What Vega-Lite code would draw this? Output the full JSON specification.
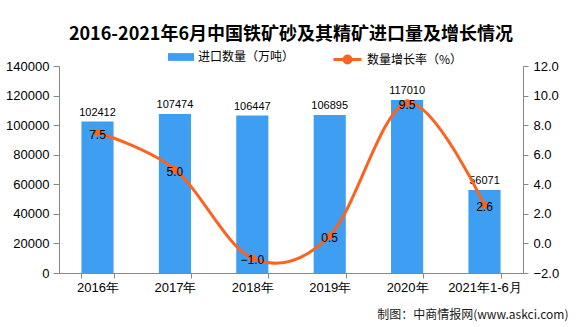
{
  "$schema": "https://vega.github.io/schema/vega-lite/v6.json",
  "width": 464,
  "height": 207,
  "autosize": {"type": "none"},
  "padding": {"left": 59, "right": 53, "top": 66, "bottom": 54},
  "background": "white",
  "title": {
    "text": "2016-2021年6月中国铁矿砂及其精矿进口量及增长情况",
    "font": "Noto Sans CJK SC",
    "fontSize": 18,
    "fontWeight": "bold",
    "color": "#000000",
    "anchor": "middle",
    "offset": 0
  },
  "config": {
    "view": {"stroke": null},
    "axis": {"grid": false, "domain": true, "ticks": true, "labelOverlap": false, "domainColor": "#888888", "tickColor": "#888888", "labelColor": "#000000", "labelFont": "Liberation Sans", "labelFontSize": 13},
    "legend": {"labelFont": "Noto Sans CJK SC", "labelFontSize": 12, "labelColor": "#000000"}
  },
  "data": {
    "values": [
      {"year": "2016年", "vol": 102412, "rate": 7.5},
      {"year": "2017年", "vol": 107474, "rate": 5.0},
      {"year": "2018年", "vol": 106447, "rate": -1.0},
      {"year": "2019年", "vol": 106895, "rate": 0.5},
      {"year": "2020年", "vol": 117010, "rate": 9.5},
      {"year": "2021年1-6月", "vol": 56071, "rate": 2.6}
    ]
  },
  "encoding": {
    "x": {
      "field": "year",
      "type": "nominal",
      "sort": null,
      "scale": {"paddingInner": 0.585, "paddingOuter": 0.29},
      "axis": {
        "labelAngle": 0,
        "tickBand": "extent",
        "tickSize": 5,
        "labelPadding": 3,
        "title": "制图：中商情报网(www.askci.com)",
        "titleFont": "Noto Sans CJK SC",
        "titleFontSize": 12,
        "titleFontWeight": "normal",
        "titleColor": "#1a1a1a",
        "titleAnchor": null,
        "titleAlign": "right",
        "titleBaseline": "middle",
        "titleX": 509,
        "titleY": 41
      }
    }
  },
  "layer": [
    {
      "encoding": {
        "y": {
          "field": "vol",
          "type": "quantitative",
          "scale": {"domain": [0, 140000], "nice": false},
          "axis": {"orient": "left", "values": [0, 20000, 40000, 60000, 80000, 100000, 120000, 140000], "format": "d", "title": null, "tickSize": 6, "labelPadding": 4, "labelOverlap": false}
        }
      },
      "layer": [
        {
          "mark": {"type": "bar", "color": "#3e9ef2"},
          "encoding": {
            "fill": {
              "datum": "进口数量（万吨）",
              "type": "nominal",
              "scale": {"range": ["#3e9ef2"]},
              "legend": {
                "orient": "none",
                "legendX": 109,
                "legendY": -22,
                "title": null,
                "symbolType": "M-1,-0.3H1V0.3H-1Z",
                "symbolSize": 676,
                "symbolStrokeWidth": 0,
                "labelOffset": 4
              }
            }
          }
        },
        {
          "mark": {"type": "text", "baseline": "bottom", "dy": -4, "font": "Liberation Sans", "fontSize": 11, "color": "#000000"},
          "encoding": {
            "text": {"field": "vol", "type": "quantitative", "format": "d"}
          }
        }
      ]
    },
    {
      "encoding": {
        "y": {
          "field": "rate",
          "type": "quantitative",
          "scale": {"domain": [-2, 12], "nice": false},
          "axis": {"orient": "right", "values": [-2, 0, 2, 4, 6, 8, 10, 12], "format": ".1f", "title": null, "tickSize": 5, "labelPadding": 5, "labelOverlap": false}
        }
      },
      "layer": [
        {
          "mark": {"type": "line", "interpolate": "cardinal", "strokeWidth": 3, "color": "#fb6420"},
          "encoding": {
            "stroke": {
              "datum": "数量增长率（%）",
              "type": "nominal",
              "scale": {"range": ["#fb6420"]},
              "legend": {
                "orient": "none",
                "legendX": 273,
                "legendY": -22,
                "title": null,
                "symbolType": "M-1,0H1M-0.25,0A0.25,0.25,0,1,1,0.25,0A0.25,0.25,0,1,1,-0.25,0Z",
                "symbolSize": 784,
                "symbolStrokeWidth": 3,
                "symbolFillColor": "#fb6420",
                "labelOffset": 4
              }
            }
          }
        },
        {
          "mark": {"type": "point", "filled": true, "size": 55, "color": "#fb6420", "opacity": 1},
          "encoding": {}
        },
        {
          "mark": {"type": "text", "baseline": "middle", "dy": 2, "font": "Liberation Sans", "fontSize": 12, "color": "#000000"},
          "encoding": {
            "text": {"field": "rate", "type": "quantitative", "format": ".1f"}
          }
        }
      ]
    }
  ],
  "resolve": {"scale": {"y": "independent"}}
}
